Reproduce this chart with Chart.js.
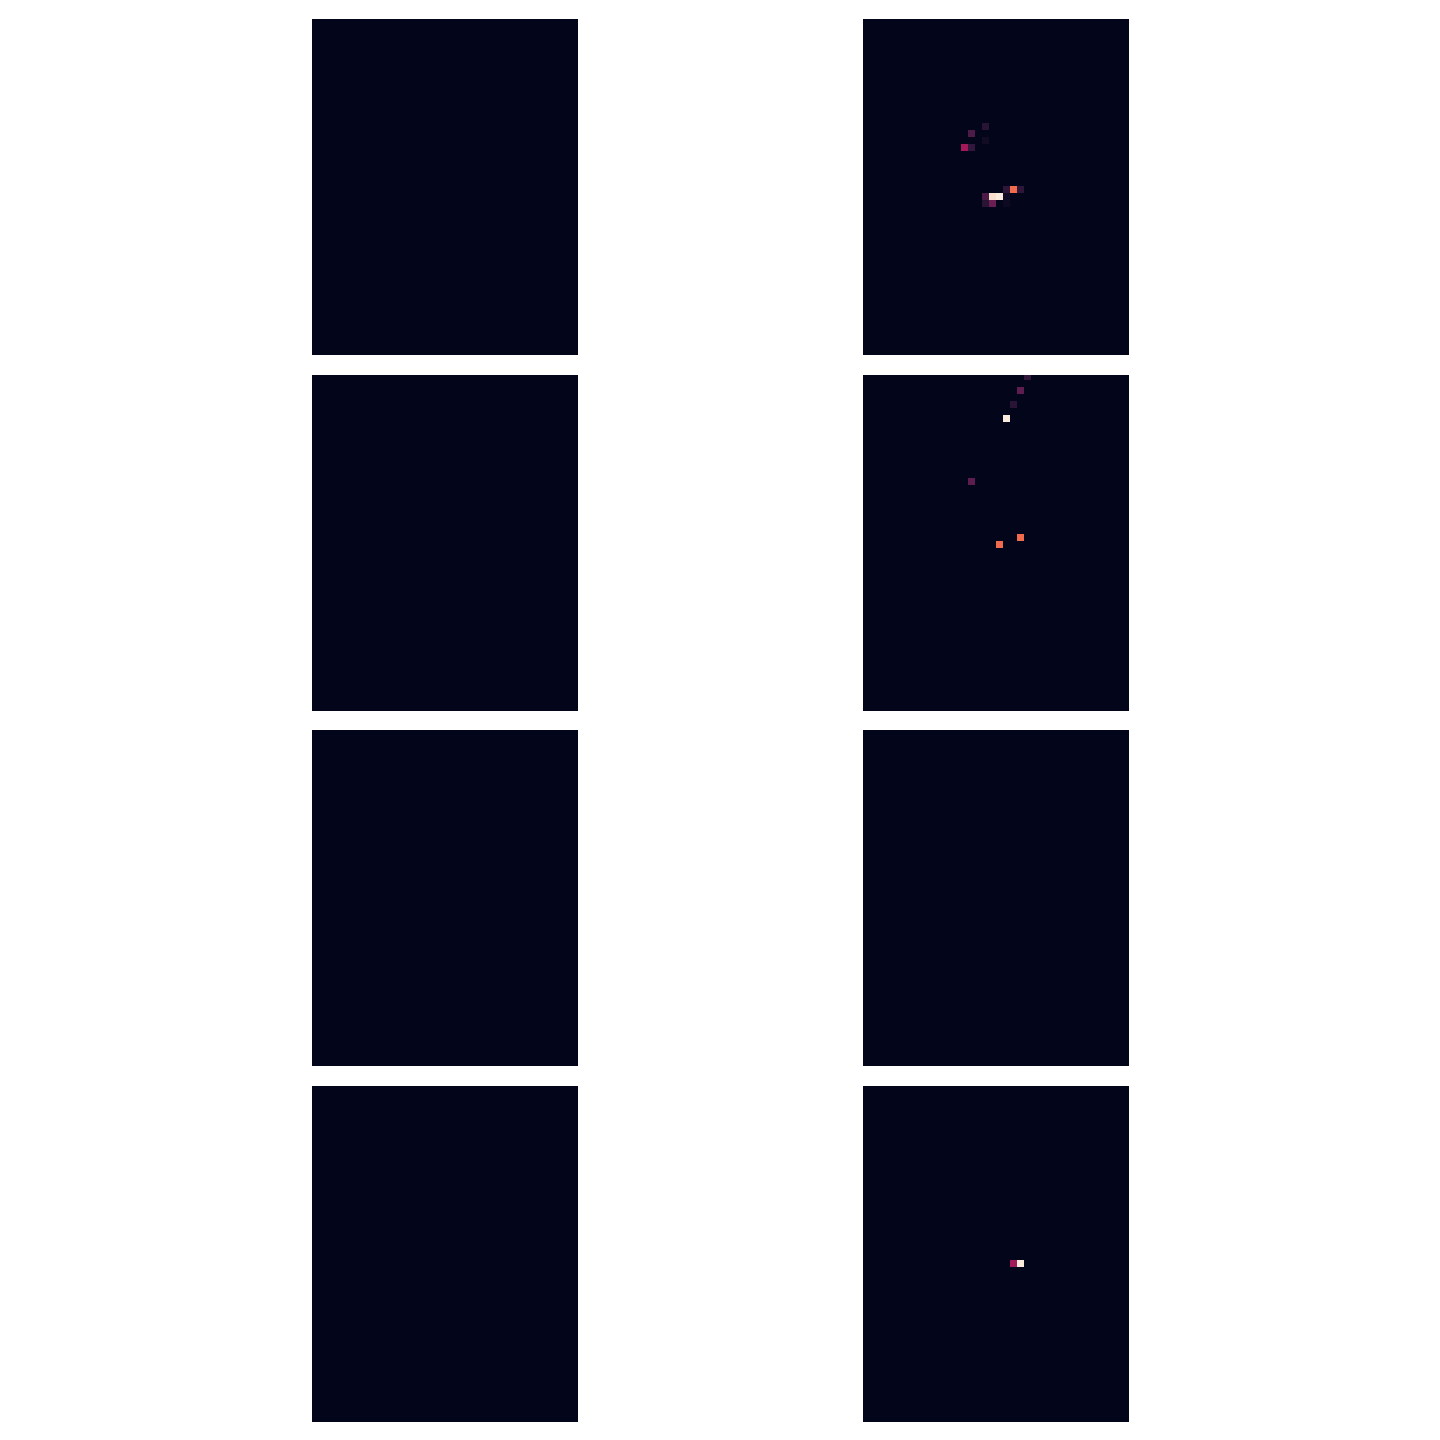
<!DOCTYPE html>
<html>
<head>
<meta charset="utf-8">
<script src="https://cdn.jsdelivr.net/npm/chart.js@4.4.1/dist/chart.umd.min.js"></script>
<style>
  html, body { margin: 0; padding: 0; background: #ffffff; }
  #wrap { position: relative; width: 1440px; height: 1440px; }
  canvas { position: absolute; }
</style>
</head>
<body>
<div id="wrap"></div>
<script>
// Grid size of every heatmap panel
const gridCols = 38;
const gridRows = 48;

// Panel 1: row 1, left (empty)
const p1Cols = [];
const p1Rows = [];
const p1Values = [];

// Panel 2: row 1, right
const p2Cols   = [17,   15,   17,   14,   15,   20,   21,   22,   17,   18,   19,   20,   17,   18,   20];
const p2Rows   = [15,   16,   17,   18,   18,   24,   24,   24,   25,   25,   25,   25,   26,   26,   26];
const p2Values = [0.11, 0.20, 0.04, 0.40, 0.13, 0.12, 0.69, 0.12, 0.20, 0.97, 1.00, 0.04, 0.11, 0.27, 0.03];

// Panel 3: row 2, left (empty)
const p3Cols = [];
const p3Rows = [];
const p3Values = [];

// Panel 4: row 2, right
const p4Cols   = [23,   22,   21,   20,   15,   22,   19];
const p4Rows   = [0,    2,    4,    6,    15,   23,   24];
const p4Values = [0.13, 0.24, 0.11, 1.00, 0.24, 0.69, 0.69];

// Panel 5: row 3, left (empty)
const p5Cols = [];
const p5Rows = [];
const p5Values = [];

// Panel 6: row 3, right (empty)
const p6Cols = [];
const p6Rows = [];
const p6Values = [];

// Panel 7: row 4, left (empty)
const p7Cols = [];
const p7Rows = [];
const p7Values = [];

// Panel 8: row 4, right
const p8Cols   = [21,   22];
const p8Rows   = [25,   25];
const p8Values = [0.40, 1.00];

// Seaborn "rocket" colormap anchors
const rocketStops = ['#03051a','#35193e','#701f57','#ad1759','#e13342','#f37651','#f6b48f','#faebdd'];

function hexToRgb(h) {
  return [parseInt(h.slice(1,3),16), parseInt(h.slice(3,5),16), parseInt(h.slice(5,7),16)];
}
function rocket(v) {
  v = Math.max(0, Math.min(1, v));
  const n = rocketStops.length - 1;
  const p = v * n;
  const i = Math.min(Math.floor(p), n - 1);
  const t = p - i;
  const a = hexToRgb(rocketStops[i]), b = hexToRgb(rocketStops[i + 1]);
  const c = a.map((x, k) => Math.round(x + (b[k] - x) * t));
  return 'rgb(' + c.join(',') + ')';
}

// Layout (positions only)
const panelLayout = [
  {left: 312, top: 19,   off: 0},
  {left: 863, top: 19,   off: 1},
  {left: 312, top: 375,  off: 0},
  {left: 863, top: 375,  off: 2},
  {left: 312, top: 730,  off: 0},
  {left: 863, top: 730,  off: 0},
  {left: 312, top: 1086, off: 0},
  {left: 863, top: 1086, off: 1}
];
const panelW = 266, panelH = 336;

const panelData = [
  [p1Cols, p1Rows, p1Values],
  [p2Cols, p2Rows, p2Values],
  [p3Cols, p3Rows, p3Values],
  [p4Cols, p4Rows, p4Values],
  [p5Cols, p5Rows, p5Values],
  [p6Cols, p6Rows, p6Values],
  [p7Cols, p7Rows, p7Values],
  [p8Cols, p8Rows, p8Values]
];

const bgPlugin = {
  id: 'heatBg',
  beforeDatasetsDraw(chart) {
    const a = chart.chartArea, ctx = chart.ctx;
    ctx.save();
    ctx.fillStyle = rocket(0);
    ctx.fillRect(a.left, a.top, a.right - a.left, a.bottom - a.top);
    ctx.restore();
  }
};

const wrap = document.getElementById('wrap');
panelLayout.forEach((lay, idx) => {
  const cv = document.createElement('canvas');
  cv.width = panelW; cv.height = panelH;
  cv.style.left = lay.left + 'px';
  cv.style.top = lay.top + 'px';
  cv.style.width = panelW + 'px';
  cv.style.height = panelH + 'px';
  wrap.appendChild(cv);
  const [cols, rows, vals] = panelData[idx];
  const pts = cols.map((c, i) => ({x: c, y: rows[i]}));
  const yMin = -0.5 + lay.off / (panelH / gridRows);
  new Chart(cv, {
    type: 'scatter',
    data: {
      datasets: [{
        data: pts,
        pointStyle: 'rect',
        pointBorderWidth: 0,
        borderWidth: 0,
        pointRadius: (ctx) => {
          const xs = ctx.chart.scales.x;
          return (xs.width / gridCols) / Math.SQRT2;
        },
        pointHoverRadius: (ctx) => {
          const xs = ctx.chart.scales.x;
          return (xs.width / gridCols) / Math.SQRT2;
        },
        backgroundColor: (ctx) => rocket(vals[ctx.dataIndex] || 0),
        pointBackgroundColor: (ctx) => rocket(vals[ctx.dataIndex] || 0)
      }]
    },
    options: {
      responsive: false,
      maintainAspectRatio: false,
      animation: false,
      devicePixelRatio: 1,
      layout: { padding: 0 },
      scales: {
        x: { type: 'linear', display: false, min: -0.5, max: gridCols - 0.5 },
        y: { type: 'linear', display: false, reverse: true, min: yMin, max: yMin + gridRows }
      },
      plugins: { legend: { display: false }, tooltip: { enabled: false } },
      events: []
    },
    plugins: [bgPlugin]
  });
});
</script>
</body>
</html>
